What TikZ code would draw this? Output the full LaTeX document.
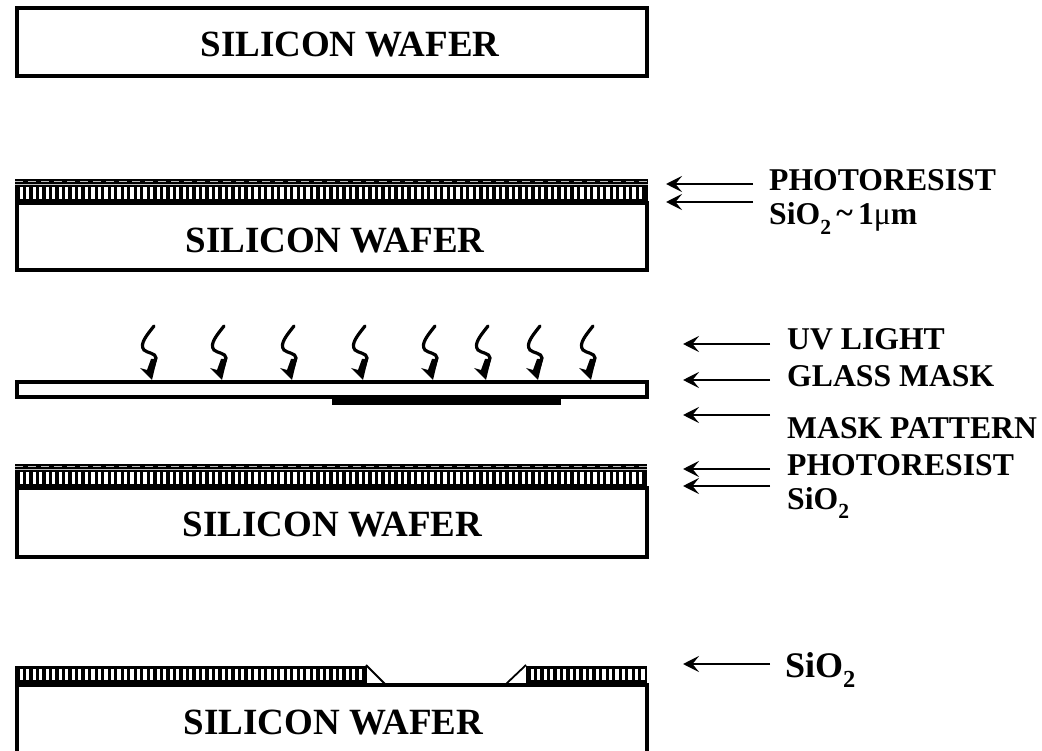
\documentclass[tikz,border=0pt]{standalone}
\usepackage{fontspec}
\usepackage{amsmath}
\setmainfont{Liberation Serif}
\usetikzlibrary{arrows.meta}
\definecolor{primary}{RGB}{0, 0, 0}
\definecolor{haze}{RGB}{190, 190, 190}
\newcommand{\oxname}{SiO\raisebox{-.3em}{\scalebox{.68}{2}}}
\tikzset{
  wafer/.style={draw=primary,line width=4pt,fill=white},
  wafertext/.style={anchor=base,inner sep=0pt,font=\bfseries\fontsize{37}{37}\selectfont,text=primary},
  lbl/.style={anchor=base west,inner sep=0pt,font=\bfseries\fontsize{31.7}{32}\selectfont,text=primary},
  pointer/.style={primary,line width=2.4pt,-{Stealth[length=16pt,width=16pt,inset=6.5pt]}},
  bolt/.style={primary,line width=3.2pt,line cap=round}
}
% comb of oxide between x=#1 and x=#2, top edge y=#3, white bars from y=#4 to y=#5, bottom edge y=#6
\newcommand{\oxidecomb}[6]{
  \fill[primary] (#1,#3) rectangle (#2,#6);
  \foreach \xa in {0,...,100}{
    \pgfmathsetmacro{\xb}{#1+4.6+6.52*\xa}
    \pgfmathparse{\xb+3.2<#2-0.5 ? 1 : 0}
    \ifnum\pgfmathresult=1
      \fill[white] (\xb,#4) rectangle (\xb+3.2,#5);
    \fi
  }
}
% resist on top, the comb below, top edge y=#3
\newcommand{\resiststack}[3]{
  \oxidecomb{#1}{#2}{#3}{#3+8}{#3+20}{#3+26}
  \draw[haze,line width=0.9pt] (#1,#3+5.2) -- (#2,#3+5.2);
  \draw[haze,line width=0.7pt,dash pattern=on 8pt off 5pt] (#1,#3+2.5) -- (#2,#3+2.5);
}
\begin{document}
\begin{tikzpicture}[x=1pt,y=-1pt]
\useasboundingbox (0,0) rectangle (1042,751);

% step one
\draw[wafer] (17,8) rectangle (646.5,76);
\node[wafertext] (waferAtext) at (350,57) {SILICON WAFER};

% step two
\resiststack{15}{648}{179}
\draw[wafer] (17,203) rectangle (646.5,270);
\node[wafertext] (waferBtext) at (335,253) {SILICON WAFER};
\node[lbl] (photoA) at (769,191) {PHOTORESIST};
\node[lbl] (oxideA) at (769,225) {\oxname\,\raisebox{1pt}{\textasciitilde}\,1{\mdseries μ}m};
\coordinate (photoAend) at (753,184);
\coordinate (oxideAend) at (753,202);
\coordinate (photoAtip) at (666,184);
\coordinate (oxideAtip) at (666,202);
\draw[pointer] (photoAend) -- (photoAtip);
\draw[pointer] (oxideAend) -- (oxideAtip);

% step three, mask and light
\foreach \tipx in {152,222,292,363,433,486,538,591}{
  \draw[bolt] (\tipx+2,326) .. controls (\tipx-5,335) and (\tipx-13,344) .. (\tipx-8,350)
    .. controls (\tipx-5,353) and (\tipx+4,353) .. (\tipx+4,358) -- (\tipx+1,368);
  \fill[primary] (\tipx,380) -- (\tipx-12,368) -- (\tipx-5,370) -- (\tipx-1,359) -- (\tipx+5,359) -- cycle;
}
\draw[wafer] (17,382) rectangle (646.5,397);
\fill[primary] (331.5,398) rectangle (561,405);
\node[lbl] (uvlabel) at (787,350) {UV LIGHT};
\node[lbl] (glasslabel) at (787,386) {GLASS MASK};
\node[lbl] (patternlabel) at (787,438) {MASK PATTERN};
\node[lbl] (photoB) at (787,475) {PHOTORESIST};
\node[lbl] (oxideB) at (787,509) {\oxname};
\foreach \rowy/\rowname in {344/uv,380/glass,415/pattern,469/photo,486/oxide}{
  \coordinate (\rowname end) at (770,\rowy);
  \coordinate (\rowname tip) at (683,\rowy);
  \draw[pointer] (\rowname end) -- (\rowname tip);
}
\resiststack{15}{647}{464}
\draw[wafer] (17,488) rectangle (646.5,557);
\node[wafertext] (waferCtext) at (332.5,536) {SILICON WAFER};

% step four, etched oxide
\oxidecomb{15}{367}{666}{668.5}{680}{684}
\oxidecomb{526}{647}{666}{668.5}{680}{684}
\draw[primary,line width=1.8pt] (366,665) -- (385,684);
\draw[primary,line width=1.8pt] (526,665) -- (506,684);
\draw[wafer] (17,685) rectangle (646.5,753);
\node[wafertext] (waferDtext) at (333.5,734) {SILICON WAFER};
\node[lbl,font=\bfseries\fontsize{36}{36}\selectfont] (oxideC) at (785,677) {\oxname};
\coordinate (oxideCend) at (770,664);
\coordinate (oxideCtip) at (683,664);
\draw[pointer] (oxideCend) -- (oxideCtip);
\end{tikzpicture}
\end{document}
